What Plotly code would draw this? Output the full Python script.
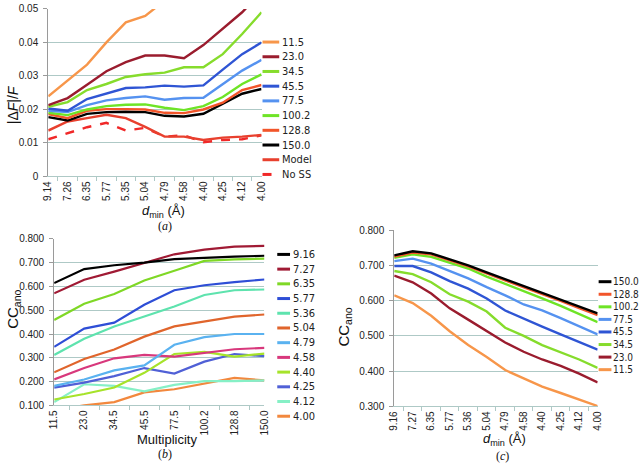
import plotly.graph_objects as go

# ---------------- data ----------------
# panel (a): |dF|/F vs d_min for each multiplicity
dmin_a = ["9.14", "7.26", "6.35", "5.77", "5.35", "5.04", "4.79", "4.58", "4.40", "4.25", "4.12", "4.00"]
a_names = ["11.5", "23.0", "34.5", "45.5", "77.5", "100.2", "128.8", "150.0", "Model", "No SS"]
a_colors = ["#F7964A", "#9A1C2E", "#86DC2C", "#2F55D4", "#5592F0", "#6EE426", "#F2552A", "#000000", "#E8402E", "#F02828"]
a_11_5 = [0.0239, 0.0287, 0.0334, 0.0400, 0.0460, 0.0479, 0.0525, 0.056, 0.060, 0.064, 0.068, 0.072]
a_23_0 = [0.0213, 0.0234, 0.0274, 0.0314, 0.0341, 0.0361, 0.0361, 0.0353, 0.0392, 0.0440, 0.0490, 0.0550]
a_34_5 = [0.0208, 0.0222, 0.0258, 0.0276, 0.0297, 0.0305, 0.0310, 0.0326, 0.0326, 0.0365, 0.0425, 0.0490]
a_45_5 = [0.0203, 0.0196, 0.0231, 0.0247, 0.0264, 0.0266, 0.0271, 0.0268, 0.0272, 0.0319, 0.0365, 0.0400]
a_77_5 = [0.0196, 0.0192, 0.0213, 0.0227, 0.0234, 0.0239, 0.0229, 0.0234, 0.0235, 0.0276, 0.0316, 0.0348]
a_100_2 = [0.0190, 0.0183, 0.0200, 0.0210, 0.0214, 0.0215, 0.0205, 0.0198, 0.0210, 0.0237, 0.0276, 0.0305]
a_128_8 = [0.0186, 0.0174, 0.0196, 0.0201, 0.0201, 0.0200, 0.0190, 0.0189, 0.0200, 0.0220, 0.0258, 0.0273]
a_150_0 = [0.0177, 0.0167, 0.0187, 0.0192, 0.0193, 0.0192, 0.0181, 0.0179, 0.0187, 0.0216, 0.0247, 0.0261]
a_model = [0.0137, 0.0164, 0.0174, 0.0184, 0.0174, 0.0148, 0.0119, 0.0119, 0.0109, 0.0116, 0.0119, 0.0124]
a_noss = [0.0111, 0.0130, 0.0147, 0.0160, 0.0137, 0.0145, 0.0119, 0.0123, 0.0102, 0.0109, 0.0111, 0.0123]
a_dash = ["solid"] * 9 + ["dash"]

# panel (b): CC_ano vs multiplicity for each d_min
mult_b = ["11.5", "23.0", "34.5", "45.5", "77.5", "100.2", "128.8", "150.0"]
b_names = ["9.16", "7.27", "6.35", "5.77", "5.36", "5.04", "4.79", "4.58", "4.40", "4.25", "4.12", "4.00"]
b_colors = ["#000000", "#A01A34", "#7FD826", "#2E4ED6", "#5EE3AE", "#E0652C", "#5AB2F0", "#D8387C", "#A6E32A", "#5060D6", "#86F0C6", "#F2883E"]
b_9_16 = [0.614, 0.673, 0.689, 0.700, 0.715, 0.721, 0.725, 0.729]
b_7_27 = [0.571, 0.628, 0.662, 0.700, 0.735, 0.755, 0.767, 0.770]
b_6_35 = [0.459, 0.527, 0.568, 0.625, 0.666, 0.707, 0.714, 0.717]
b_5_77 = [0.346, 0.423, 0.448, 0.523, 0.584, 0.605, 0.618, 0.629]
b_5_36 = [0.312, 0.380, 0.432, 0.473, 0.516, 0.564, 0.584, 0.587]
b_5_04 = [0.239, 0.295, 0.335, 0.389, 0.432, 0.451, 0.473, 0.482]
b_4_79 = [0.182, 0.209, 0.247, 0.268, 0.355, 0.387, 0.400, 0.400]
b_4_58 = [0.209, 0.257, 0.298, 0.312, 0.305, 0.321, 0.336, 0.342]
b_4_40 = [0.125, 0.148, 0.175, 0.237, 0.316, 0.325, 0.305, 0.318]
b_4_25 = [0.175, 0.196, 0.223, 0.257, 0.234, 0.284, 0.316, 0.307]
b_4_12 = [0.114, 0.189, 0.182, 0.159, 0.186, 0.202, 0.202, 0.205]
b_4_00 = [0.080, 0.100, 0.114, 0.155, 0.168, 0.193, 0.216, 0.205]

# panel (c): CC_ano vs d_min for each multiplicity
dmin_c = ["9.16", "7.27", "6.35", "5.77", "5.36", "5.04", "4.79", "4.58", "4.40", "4.25", "4.12", "4.00"]
c_names = ["150.0", "128.8", "100.2", "77.5", "45.5", "34.5", "23.0", "11.5"]
c_colors = ["#000000", "#F2552A", "#6EE426", "#5592F0", "#2F55D4", "#86DC2C", "#9A1C2E", "#F7964A"]
c_150_0 = [0.728, 0.740, 0.734, 0.717, 0.700, 0.680, 0.661, 0.641, 0.622, 0.604, 0.583, 0.564]
c_128_8 = [0.725, 0.736, 0.731, 0.714, 0.697, 0.677, 0.658, 0.638, 0.618, 0.599, 0.579, 0.559]
c_100_2 = [0.721, 0.731, 0.724, 0.708, 0.691, 0.668, 0.648, 0.626, 0.606, 0.585, 0.562, 0.539]
c_77_5 = [0.712, 0.719, 0.705, 0.684, 0.663, 0.638, 0.615, 0.589, 0.572, 0.550, 0.527, 0.504]
c_45_5 = [0.698, 0.698, 0.680, 0.655, 0.634, 0.606, 0.572, 0.548, 0.526, 0.504, 0.483, 0.461]
c_34_5 = [0.684, 0.675, 0.652, 0.618, 0.597, 0.569, 0.523, 0.500, 0.474, 0.453, 0.433, 0.409]
c_23_0 = [0.671, 0.652, 0.620, 0.578, 0.546, 0.513, 0.481, 0.455, 0.433, 0.415, 0.393, 0.368]
c_11_5 = [0.615, 0.593, 0.557, 0.513, 0.474, 0.440, 0.403, 0.380, 0.356, 0.338, 0.319, 0.301]

a_values = [a_11_5, a_23_0, a_34_5, a_45_5, a_77_5, a_100_2, a_128_8, a_150_0, a_model, a_noss]
b_values = [b_9_16, b_7_27, b_6_35, b_5_77, b_5_36, b_5_04, b_4_79, b_4_58, b_4_40, b_4_25, b_4_12, b_4_00]
c_values = [c_150_0, c_128_8, c_100_2, c_77_5, c_45_5, c_34_5, c_23_0, c_11_5]

# ---------------- figure ----------------
W, H = 640, 465
FONT = "Liberation Sans, Arial, sans-serif"
NARROW = "Liberation Sans Narrow, DejaVu Sans Condensed, Arial Narrow, sans-serif"
GRID = "#AEC9C6"
AXIS_Y = "#9A9A9A"


def px(x):
    return x / W


def py(y):
    return 1 - y / H


fig = go.Figure()

for name, vals, col, dash in reversed(list(zip(a_names, a_values, a_colors, a_dash))):
    fig.add_trace(go.Scatter(x=dmin_a, y=vals, mode="lines", name=name,
                             line=dict(color=col, width=2.4, dash=dash),
                             xaxis="x", yaxis="y", showlegend=False))
for name, vals, col in reversed(list(zip(b_names, b_values, b_colors))):
    fig.add_trace(go.Scatter(x=mult_b, y=vals, mode="lines", name=name,
                             line=dict(color=col, width=2.2),
                             xaxis="x2", yaxis="y2", showlegend=False))
for name, vals, col in reversed(list(zip(c_names, c_values, c_colors))):
    fig.add_trace(go.Scatter(x=dmin_c, y=vals, mode="lines", name=name,
                             line=dict(color=col, width=2.4),
                             xaxis="x3", yaxis="y3", showlegend=False))


def xax(domain, anchor):
    return dict(domain=domain, anchor=anchor, type="category", tickangle=-90,
                showgrid=False, showline=True, linecolor=GRID, linewidth=1,
                ticks="outside", tickson="boundaries", ticklen=4, tickcolor=GRID,
                tickfont=dict(family=FONT, size=10, color="#222"), zeroline=False)


def yax(domain, anchor, rng, dtick, fmt):
    return dict(domain=domain, anchor=anchor, range=rng, dtick=dtick, tickformat=fmt,
                showgrid=True, gridcolor=GRID, gridwidth=1, showline=True,
                linecolor=AXIS_Y, linewidth=1, ticks="outside", ticklen=4,
                tickcolor=AXIS_Y, zeroline=False, ticklabelstandoff=3,
                tickfont=dict(family=FONT, size=10, color="#222"))


fig.update_layout(
    width=W, height=H, margin=dict(l=0, r=0, t=0, b=0),
    paper_bgcolor="white", plot_bgcolor="white", showlegend=False,
    xaxis=xax([px(43), px(260)], "y"),
    yaxis=yax([py(175), py(3)], "x", [0, 0.05], 0.01, ""),
    xaxis2=xax([px(49), px(263)], "y2"),
    yaxis2=yax([py(410), py(239)], "x2", [0.1, 0.8], 0.1, ".3f"),
    xaxis3=xax([px(395), px(602)], "y3"),
    yaxis3=yax([py(411), py(230)], "x3", [0.3, 0.8], 0.1, ".3f"),
)

shapes = []
annotations = []


def legend(names, colors, dashes, x0, x1, xt, y0, step, size):
    for i, (n, c, d) in enumerate(zip(names, colors, dashes)):
        y = y0 + i * step
        shapes.append(dict(type="line", xref="paper", yref="paper",
                           x0=px(x0), x1=px(x1), y0=py(y), y1=py(y),
                           line=dict(color=c, width=3, dash=d)))
        annotations.append(dict(text=n, xref="paper", yref="paper", x=px(xt), y=py(y),
                                xanchor="left", yanchor="middle", showarrow=False,
                                font=dict(family=NARROW, size=size, color="#222")))


legend(a_names, a_colors, a_dash, 261, 278, 279, 37, 15.1, 11)
legend(b_names, b_colors, ["solid"] * len(b_names), 276, 289, 290, 255, 15.1, 11)
legend(c_names, c_colors, ["solid"] * len(c_names), 603, 616, 616, 283, 12.9, 10)


def text(t, x, y, size, angle=0, serif=False):
    annotations.append(dict(text=t, xref="paper", yref="paper", x=px(x), y=py(y),
                            xanchor="center", yanchor="middle", showarrow=False,
                            textangle=angle,
                            font=dict(family="Liberation Serif, serif" if serif else FONT,
                                      size=size, color="#111")))


text("|Δ<i>F</i>|/<i>F</i>", 8, 101, 14, -90)
text("<i>d</i><sub>min</sub> (Å)", 160, 211, 13)
text("(<i>a</i>)", 162, 226, 12, serif=True)
text("CC<sub>ano</sub>", 8, 311, 15, -90)
text("Multiplicity", 164, 445, 13)
text("(<i>b</i>)", 162, 460, 12, serif=True)
text("CC<sub>ano</sub>", 344, 330, 15, -90)
text("<i>d</i><sub>min</sub> (Å)", 507, 445, 13)
text("(<i>c</i>)", 505, 462, 12, serif=True)

fig.update_layout(shapes=shapes, annotations=annotations)
fig.write_html("out.html", config={"displayModeBar": False},
               post_script="document.body.style.margin='0px';document.body.style.overflow='hidden';")
